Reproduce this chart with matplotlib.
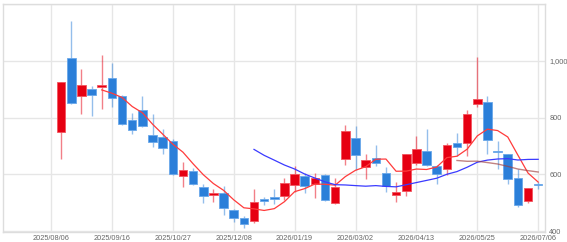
import matplotlib
matplotlib.use("Agg")
import matplotlib.pyplot as plt
import numpy as np
import pandas as pd

plt.rcParams['font.family'] = ['Liberation Sans', 'DejaVu Sans']

# weekly candles, positions 1..48 (position 0 is the first tick label)
opens = [750, 1011, 876, 900, 908, 940, 876, 790, 826, 739, 732, 718,
         594, 611, 555, 527, 534, 475, 445, 436, 511, 521, 524, 563,
         593, 566, 597, 499, 655, 728, 626, 656, 604, 526, 542, 640,
         681, 629, 618, 710, 709, 848, 856, 683, 670, 587, 506, 563]
highs = [926, 1141, 972, 910, 1020, 993, 878, 815, 877, 811, 760, 723,
         644, 622, 566, 548, 560, 478, 454, 548, 519, 548, 586, 629,
         603, 604, 600, 586, 774, 770, 670, 702, 624, 572, 672, 735,
         760, 632, 711, 745, 826, 1014, 876, 717, 672, 617, 551, 574]
lows = [653, 847, 813, 805, 831, 838, 775, 741, 768, 697, 671, 598,
        556, 562, 500, 503, 456, 431, 410, 427, 492, 494, 509, 536,
        533, 515, 505, 494, 632, 615, 582, 630, 538, 503, 524, 632,
        630, 566, 598, 664, 665, 838, 671, 617, 566, 486, 499, 548]
closes = [926, 852, 914, 880, 914, 868, 777, 755, 770, 713, 692, 600,
          614, 565, 522, 535, 481, 447, 424, 503, 507, 513, 570, 600,
          557, 588, 508, 555, 751, 668, 651, 640, 558, 536, 670, 688,
          632, 601, 702, 695, 812, 866, 720, 677, 582, 492, 550, 561]

tick_labels = ['2025/08/06', '2025/09/16', '2025/10/27', '2025/12/08',
               '2026/01/19', '2026/03/02', '2026/04/13', '2026/05/25',
               '2026/07/06']
y_ticks = [400, 600, 800, 1000]

UP = '#e60012'
UP_EDGE = '#f2555f'
DOWN = '#2b7fd9'
DOWN_EDGE = '#6aa8ea'

df = pd.DataFrame({'open': opens, 'high': highs, 'low': lows, 'close': closes})
df['x'] = np.arange(1, len(df) + 1)
df['ma5'] = df['close'].rolling(5).mean()
df['ma20'] = df['close'].rolling(20).mean()
df['ma40'] = df['close'].rolling(40).mean()

fig = plt.figure(figsize=(5.67, 2.42), dpi=100)
ax = fig.add_axes([3 / 567, 10 / 242, 542 / 567, 228 / 242])

up = df['close'] >= df['open']
colors = np.where(up, UP, DOWN)
edges = np.where(up, UP_EDGE, DOWN_EDGE)

ax.vlines(df['x'], df['low'], df['high'], colors=colors, linewidth=1.0,
          alpha=0.5, zorder=2)
body_lo = np.minimum(df['open'], df['close'])
body_h = np.maximum(np.abs(df['close'] - df['open']), 5)
ax.bar(df['x'], body_h, bottom=body_lo, width=0.84, color=colors,
       edgecolor=edges, linewidth=0.6, zorder=3)

ax.plot(df['x'], df['ma5'], color='#ff3b3b', linewidth=0.9, zorder=4)
ax.plot(df['x'], df['ma20'], color='#3a3aff', linewidth=0.9, zorder=4)
ax.plot(df['x'], df['ma40'], color='#a04040', linewidth=1.0, alpha=0.65,
        zorder=4)

ax.set_xlim(-4.73, 48.67)
ax.set_ylim(396.5, 1200)

ax.set_xticks(np.arange(0, 49, 6))
ax.set_xticklabels(tick_labels, fontsize=5.3, color='#666666')
ax.set_yticks(y_ticks + [1200])
ax.set_yticklabels(['400', '600', '800', '1,000', ''], fontsize=5.3,
                   color='#666666')
for lbl in ax.get_yticklabels():
    lbl.set_va('bottom')
ax.yaxis.tick_right()
ax.tick_params(axis='both', length=0)
ax.tick_params(axis='x', pad=2)
ax.tick_params(axis='y', pad=3)

ax.grid(True, color='#e6e6e6', linewidth=1.0, zorder=0)
ax.set_axisbelow(True)
for side in ['top', 'left', 'right', 'bottom']:
    ax.spines[side].set_color('#dddddd')
    ax.spines[side].set_linewidth(1.0)

fig.savefig('out.png', dpi=100)
